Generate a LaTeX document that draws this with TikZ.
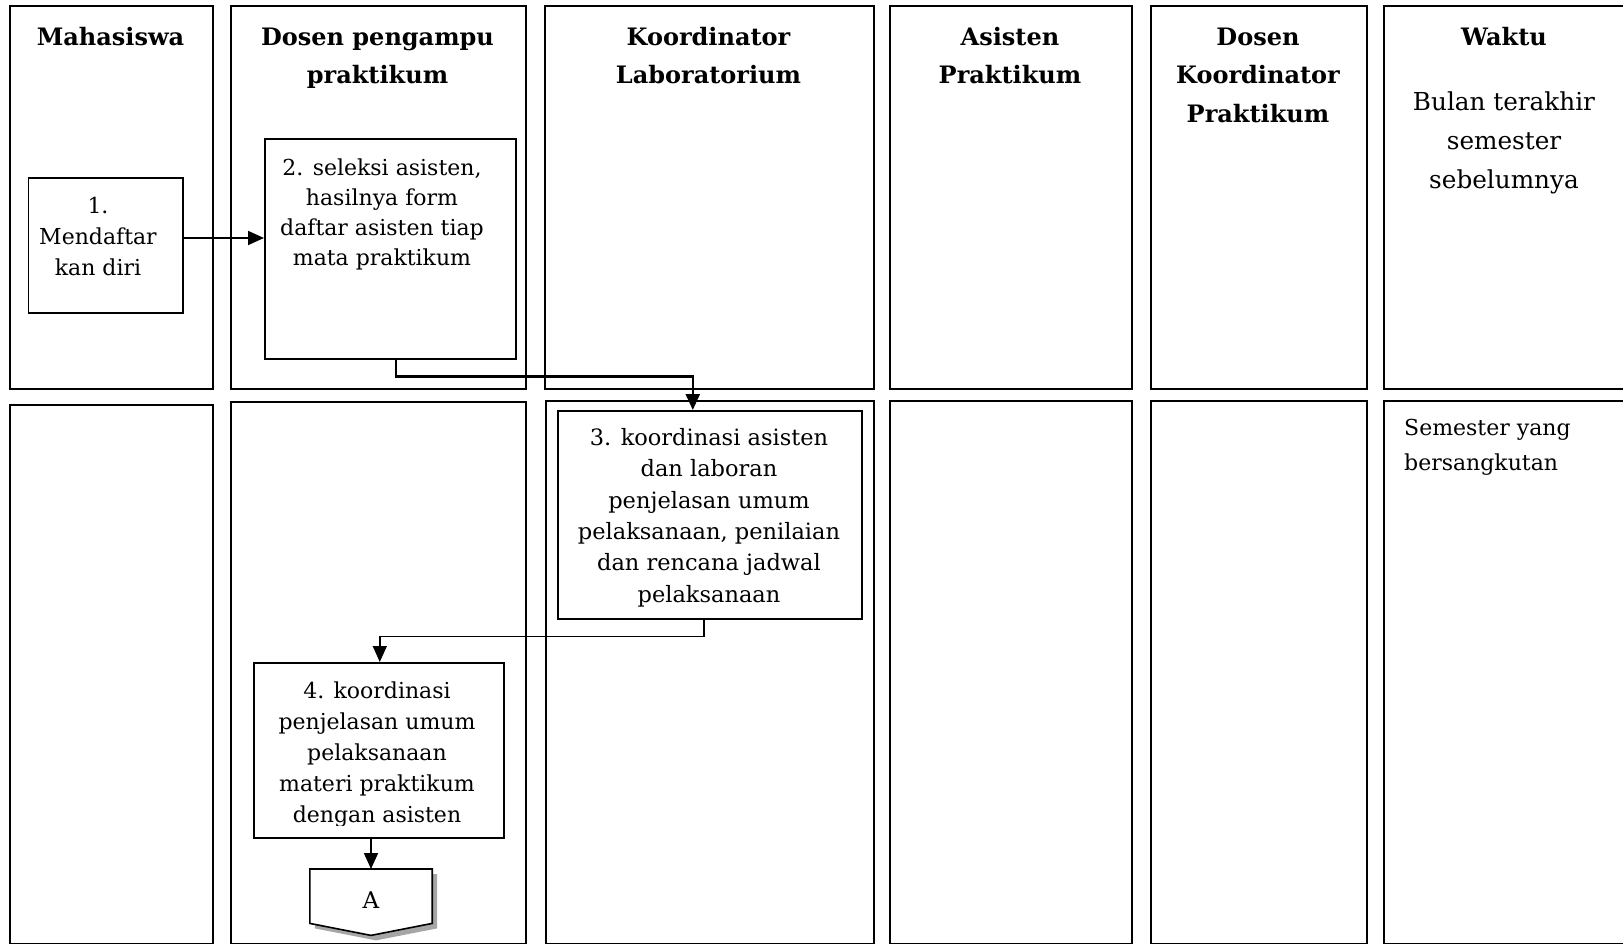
\documentclass[tikz,border=0pt]{standalone}
\usepackage{fontspec}
\setmainfont{DejaVu Serif}
\usetikzlibrary{arrows.meta}
\newcommand\firstrule[1]{\rule{0pt}{#1}}
\begin{document}
\begin{tikzpicture}[x=1pt,y=-1pt,
  lane/.style={draw=black, line width=1.6pt, inner sep=0pt, anchor=north west},
  proc/.style={draw=black, line width=1.6pt, inner sep=0pt, anchor=north west, fill=white},
  head/.style={font=\bfseries\fontsize{24}{38.5}\selectfont, align=center, anchor=north, inner sep=0pt},
  txt/.style={align=center, anchor=north, inner sep=0pt},
  flow/.style={line width=1.8pt, -{Triangle[length=16pt,width=14pt]}},
]
\useasboundingbox (0,0) rectangle (1623,944);
\clip (0,0) rectangle (1623,944);
% upper lanes
\node[lane, minimum width=203pt, minimum height=383pt] (ma1) at (9,5) {};
\node[lane, minimum width=295pt, minimum height=383pt] (dp1) at (230,5) {};
\node[lane, minimum width=329pt, minimum height=383pt] (kl1) at (544,5) {};
\node[lane, minimum width=242pt, minimum height=383pt] (ap1) at (889,5) {};
\node[lane, minimum width=216pt, minimum height=383pt] (dk1) at (1150,5) {};
\node[lane, minimum width=243pt, minimum height=383pt] (wk1) at (1383,5) {};
% lower lanes
\node[lane, minimum width=203pt, minimum height=539pt] (ma2) at (9,404) {};
\node[lane, minimum width=295pt, minimum height=542pt] (dp2) at (230,401) {};
\node[lane, minimum width=328pt, minimum height=543pt] (kl2) at (545,400) {};
\node[lane, minimum width=242pt, minimum height=543pt] (ap2) at (889,400) {};
\node[lane, minimum width=216pt, minimum height=543pt] (dk2) at (1150,400) {};
\node[lane, minimum width=243pt, minimum height=543pt] (wk2) at (1383,400) {};
% headers
\node[head] (h1) at (110.5,23) {\firstrule{22pt}Mahasiswa};
\node[head] (h2) at (377.5,23) {\firstrule{22pt}Dosen pengampu\\praktikum};
\node[head] (h3) at (708.5,23) {\firstrule{22pt}Koordinator\\Laboratorium};
\node[head] (h4) at (1010,23) {\firstrule{22pt}Asisten\\Praktikum};
\node[head] (h5) at (1258,23) {\firstrule{22pt}Dosen\\Koordinator\\Praktikum};
\node[head] (h6) at (1504,23) {\firstrule{22pt}Waktu};
\node[txt, font=\fontsize{24.7}{39}\selectfont] (w1) at (1504,88) {\firstrule{22pt}Bulan terakhir\\semester\\sebelumnya};
\node[txt, anchor=north west, align=left, font=\fontsize{22}{35}\selectfont] (w2) at (1404,415) {\firstrule{20pt}Semester yang\\bersangkutan};
% process boxes
\node[proc, minimum width=154.5pt, minimum height=135pt] (b1) at (27.5,177) {};
\node[txt, font=\fontsize{22}{31}\selectfont] (t1) at (98,193) {\firstrule{20pt}1.\\Mendaftar\\kan diri};
\node[proc, minimum width=251pt, minimum height=220pt] (b2) at (264,138) {};
\node[txt, font=\fontsize{22}{30}\selectfont] (t2) at (382,155) {\firstrule{20pt}2. seleksi asisten,\\hasilnya form\\daftar asisten tiap\\mata praktikum};
\node[proc, minimum width=304pt, minimum height=208pt] (b3) at (557,410) {};
\node[txt, font=\fontsize{22.5}{31.4}\selectfont] (t3) at (709,425) {\firstrule{20pt}3. koordinasi asisten\\dan laboran\\penjelasan umum\\pelaksanaan, penilaian\\dan rencana jadwal\\pelaksanaan};
\node[proc, minimum width=250pt, minimum height=175pt] (b4) at (253,662) {};
\begin{scope}
\clip (253,662) rectangle (503,825);
\node[txt, font=\fontsize{22}{31}\selectfont] (t4) at (377,678) {\firstrule{20pt}4. koordinasi\\penjelasan umum\\pelaksanaan\\materi praktikum\\dengan asisten};
\end{scope}
% off-page connector A
\node[inner sep=0pt, minimum width=122pt, minimum height=66pt, anchor=north] (A) at (371,869) {};
\begin{scope}[transform canvas={shift={(5pt,-5pt)}}]
\fill[black!35] (A.north west) -- (A.north east) -- ([yshift=12pt]A.south east) -- (A.south) -- ([yshift=12pt]A.south west) -- cycle;
\end{scope}
\draw[line width=1.6pt, fill=white] (A.north west) -- (A.north east) -- ([yshift=12pt]A.south east) -- (A.south) -- ([yshift=12pt]A.south west) -- cycle;
\node[inner sep=0pt, anchor=base, font=\fontsize{23}{26}\selectfont] (Alab) at (371,908) {A};
% connectors
\coordinate (r1) at (0,238);
\draw[flow] (b1.east |- r1) -- (b2.west |- r1);
\draw[flow, line width=2.5pt] ([xshift=5.5pt]b2.south) -- ++(0,17) -| ([xshift=-17pt]b3.north);
\draw[flow, line width=1.4pt] ([xshift=-6pt]b3.south) -- ++(0,17) -| ([xshift=1pt]b4.north);
\draw[flow] (b4.south -| A.north) -- (A.north);
\end{tikzpicture}
\end{document}
